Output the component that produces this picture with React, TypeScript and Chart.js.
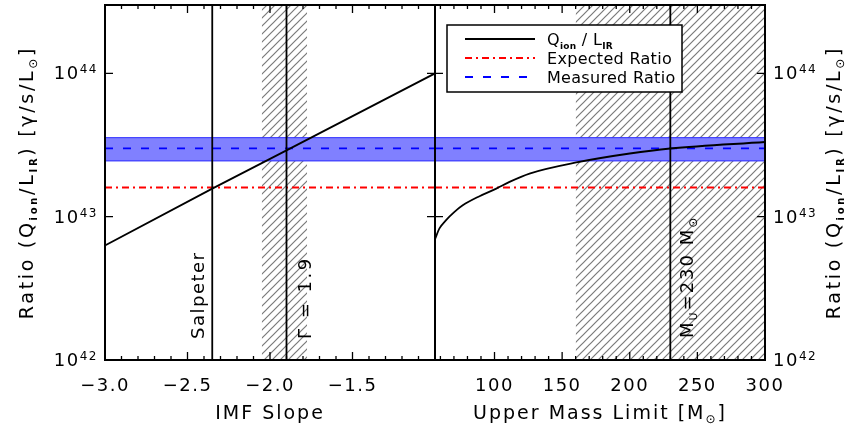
import React, { useEffect, useRef } from 'react';
import { Chart, registerables } from 'chart.js';

Chart.register(...registerables);

const FONT = "'DejaVu Sans', 'Liberation Sans', sans-serif";

// ---- shared y axis (log) ----
const Y_MIN = 1e42;
const Y_MAX = 3e44;
const Y_DECADES = [1e42, 1e43, 1e44];
const Y_EXPONENTS = ['42', '43', '44'];

// ---- horizontal reference ratios ----
const EXPECTED_RATIO = 1.6e43;
const MEASURED_RATIO = 3.0e43;
const MEASURED_LOW = 2.45e43;
const MEASURED_HIGH = 3.56e43;

// ---- left panel: IMF slope ----
const SLOPE_MIN = -3.0;
const SLOPE_MAX = -1.0;
const SLOPE_TICKS = [-3.0, -2.5, -2.0, -1.5, -1.0];
const SLOPE_LABELED = [-3.0, -2.5, -2.0, -1.5];
const SLOPE_VALUES = [-3.0, -2.35, -1.9, -1.0];
const SLOPE_RATIOS = [6.3e42, 1.57e43, 2.9e43, 1.0e44];
const SALPETER_SLOPE = -2.35;
const FIT_SLOPE = -1.9;
const FIT_SLOPE_RANGE = [-2.05, -1.775];

// ---- right panel: upper mass limit ----
const MASS_MIN = 56;
const MASS_MAX = 300;
const MASS_TICKS = [100, 150, 200, 250, 300];
const MASS_VALUES = [56, 59.3, 64.2, 70.4, 76.5, 88.9, 101.3, 111.1, 125.9, 160.5, 200, 230, 300];
const MASS_RATIOS = [6.97e42, 8.28e42, 9.46e42, 1.08e43, 1.2e43, 1.39e43, 1.57e43, 1.75e43, 2.0e43, 2.39e43, 2.76e43, 2.99e43, 3.32e43];
const FIT_MASS = 230;
const FIT_MASS_RANGE = [160, 300];

const RED_DASH = [7, 4, 2, 4];
const BLUE_DASH = [8, 10];

type Part = { t: string; s: number; dy?: number; b?: boolean };

function setFont(ctx: any, p: Part) {
  ctx.font = `${p.b ? 'bold ' : ''}${p.s}px ${FONT}`;
}
function drawRich(ctx: any, parts: Part[], x: number, y: number, align: string, ls: number) {
  ctx.letterSpacing = ls + 'px';
  let w = 0;
  for (const p of parts) {
    setFont(ctx, p);
    w += ctx.measureText(p.t).width;
  }
  let cx = align === 'left' ? x : align === 'center' ? x - w / 2 : x - w;
  ctx.textAlign = 'left';
  ctx.textBaseline = 'alphabetic';
  for (const p of parts) {
    setFont(ctx, p);
    ctx.fillText(p.t, cx, y + (p.dy || 0));
    cx += ctx.measureText(p.t).width;
  }
}
function drawRotated(ctx: any, parts: Part[], x: number, y: number, align: string, ls: number) {
  ctx.save();
  ctx.translate(x, y);
  ctx.rotate(-Math.PI / 2);
  drawRich(ctx, parts, 0, 0, align, ls);
  ctx.restore();
}

function hatchPattern(): any {
  const c = document.createElement('canvas');
  c.width = 8;
  c.height = 8;
  const g = c.getContext('2d');
  if (!g) return '#aaa';
  g.strokeStyle = '#7a7a7a';
  g.lineWidth = 1.2;
  g.beginPath();
  g.moveTo(-1, 9); g.lineTo(9, -1);
  g.moveTo(-1, 1); g.lineTo(1, -1);
  g.moveTo(7, 9); g.lineTo(9, 7);
  g.stroke();
  return g.createPattern(c, 'repeat') || '#aaa';
}

const hseg = (x0: number, x1: number, y: number) => [{ x: x0, y }, { x: x1, y }];
const vseg = (x: number) => [{ x, y: Y_MIN }, { x, y: Y_MAX }];

function buildDatasets(xmin: number, xmax: number, hatch: number[], fit: number, extraV: number[], curveX: number[], curveY: number[], pattern: any, smooth: boolean) {
  const base = { pointRadius: 0, pointHoverRadius: 0 };
  return [
    { ...base, data: hseg(xmin, xmax, MEASURED_HIGH), borderColor: '#2a2aff', borderWidth: 1, backgroundColor: '#8080ff', fill: '+1', order: 9 },
    { ...base, data: hseg(xmin, xmax, MEASURED_LOW), borderColor: '#2a2aff', borderWidth: 1, fill: false, order: 8 },
    { ...base, data: [{ x: hatch[0], y: Y_MAX }, { x: hatch[1], y: Y_MAX }], borderColor: 'rgba(0,0,0,0)', borderWidth: 1, backgroundColor: pattern, fill: 'start', order: 10 },
    { ...base, data: hseg(xmin, xmax, EXPECTED_RATIO), borderColor: '#ff0000', borderWidth: 2, borderDash: RED_DASH, fill: false, order: 7 },
    { ...base, data: hseg(xmin, xmax, MEASURED_RATIO), borderColor: '#0000ff', borderWidth: 1.8, borderDash: BLUE_DASH, fill: false, order: 6 },
    ...[fit, ...extraV].map((v) => ({ ...base, data: vseg(v), borderColor: '#000', borderWidth: 1.8, fill: false, order: 3 })),
    {
      ...base,
      data: curveX.map((x, i) => ({ x, y: curveY[i] })),
      borderColor: '#000',
      borderWidth: 1.8,
      fill: false,
      order: 2,
      cubicInterpolationMode: smooth ? 'monotone' : 'default',
    },
  ];
}

function decor(side: 'left' | 'right') {
  return {
    id: 'decor' + side,
    beforeDraw(chart: any) {
      chart.ctx.letterSpacing = '1.5px';
    },
    afterDraw(chart: any) {
      const ctx = chart.ctx;
      const a = chart.chartArea;
      const xs = chart.scales.x;
      const ys = chart.scales.y;
      ctx.save();
      ctx.strokeStyle = '#000';
      ctx.fillStyle = '#000';
      ctx.lineWidth = 1.3;
      ctx.beginPath();
      const tickX = (v: number, len: number) => {
        const px = xs.getPixelForValue(v);
        ctx.moveTo(px, a.bottom);
        ctx.lineTo(px, a.bottom - len);
        ctx.moveTo(px, a.top);
        ctx.lineTo(px, a.top + len);
      };
      if (side === 'left') {
        for (let i = 0; i <= 20; i++) tickX(SLOPE_MIN + i * 0.1, 4);
        SLOPE_TICKS.forEach((v) => tickX(v, 8));
      } else {
        for (let v = 60; v < MASS_MAX; v += 10) tickX(v, 4);
        MASS_TICKS.forEach((v) => tickX(v, 8));
      }
      Y_DECADES.forEach((v) => {
        const py = ys.getPixelForValue(v);
        ctx.moveTo(a.left, py);
        ctx.lineTo(a.left + 8, py);
        ctx.moveTo(a.right, py);
        ctx.lineTo(a.right - 8, py);
      });
      ctx.stroke();
      ctx.lineWidth = 2;
      ctx.strokeRect(a.left, a.top, a.right - a.left, a.bottom - a.top);

      // y tick labels
      Y_DECADES.forEach((v, i) => {
        const py = ys.getPixelForValue(v);
        const parts: Part[] = [{ t: '10', s: 18 }, { t: Y_EXPONENTS[i], s: 12, dy: -6 }];
        if (side === 'left') drawRich(ctx, parts, a.left - 7, py + 6, 'right', 1.5);
        else drawRich(ctx, parts, a.right + 8, py + 6, 'left', 1.5);
      });

      // y title
      const yTitle: Part[] = [
        { t: 'Ratio (Q', s: 19 },
        { t: 'ion', s: 10, b: true, dy: 4 },
        { t: '/L', s: 19 },
        { t: 'IR', s: 10, b: true, dy: 4 },
        { t: ') [γ/s/L', s: 19 },
        { t: '⊙', s: 12, dy: 4 },
        { t: ']', s: 19 },
      ];
      const midY = (a.top + a.bottom) / 2;
      if (side === 'left') drawRotated(ctx, yTitle, a.left - 72, midY, 'center', 2.7);
      else drawRotated(ctx, yTitle, a.right + 75, midY, 'center', 2.7);

      // x title + annotations
      const midX = (a.left + a.right) / 2;
      if (side === 'left') {
        drawRich(ctx, [{ t: 'IMF Slope', s: 19 }], midX, 419, 'center', 2);
        drawRotated(ctx, [{ t: 'Salpeter', s: 18 }], xs.getPixelForValue(SALPETER_SLOPE) - 8, a.bottom - 21, 'left', 1.5);
        drawRotated(ctx, [{ t: 'Γ = 1.9', s: 18 }], xs.getPixelForValue(FIT_SLOPE) + 24, a.bottom - 21, 'left', 2.5);
      } else {
        drawRich(ctx, [{ t: 'Upper Mass Limit [M', s: 19 }, { t: '⊙', s: 12, dy: 4 }, { t: ']', s: 19 }], midX, 419, 'center', 2);
        drawRotated(
          ctx,
          [{ t: 'M', s: 18 }, { t: 'U', s: 11, dy: 4 }, { t: '=230 M', s: 18 }, { t: '⊙', s: 12, dy: 4 }],
          xs.getPixelForValue(FIT_MASS) + 23,
          a.bottom - 22,
          'left',
          2
        );

        // legend
        const lx = a.left + 12;
        const ly = a.top + 20;
        const lw = 235;
        const lh = 67;
        ctx.fillStyle = '#fff';
        ctx.fillRect(lx, ly, lw, lh);
        ctx.lineWidth = 1.5;
        ctx.strokeStyle = '#000';
        ctx.strokeRect(lx, ly, lw, lh);
        const rows = [
          { color: '#000', dash: [] as number[], width: 1.8, parts: [{ t: 'Q', s: 16 }, { t: 'ion', s: 9, b: true, dy: 4 }, { t: ' / L', s: 16 }, { t: 'IR', s: 9, b: true, dy: 4 }] },
          { color: '#ff0000', dash: RED_DASH, width: 2, parts: [{ t: 'Expected Ratio', s: 16 }] },
          { color: '#0000ff', dash: BLUE_DASH, width: 1.8, parts: [{ t: 'Measured Ratio', s: 16 }] },
        ];
        rows.forEach((r, i) => {
          const ry = ly + 14 + i * 19;
          ctx.save();
          ctx.strokeStyle = r.color;
          ctx.lineWidth = r.width;
          ctx.setLineDash(r.dash);
          ctx.beginPath();
          ctx.moveTo(lx + 18, ry);
          ctx.lineTo(lx + 88, ry);
          ctx.stroke();
          ctx.restore();
          ctx.fillStyle = '#000';
          drawRich(ctx, r.parts as Part[], lx + 100, ry + 6, 'left', 0.3);
        });
      }
      ctx.restore();
    },
  };
}

function fmtSlope(v: number) {
  return (v < 0 ? '\u2212' : '') + Math.abs(v).toFixed(1);
}

function config(side: 'left' | 'right', pattern: any): any {
  const isLeft = side === 'left';
  const xmin = isLeft ? SLOPE_MIN : MASS_MIN;
  const xmax = isLeft ? SLOPE_MAX : MASS_MAX;
  const datasets = isLeft
    ? buildDatasets(xmin, xmax, FIT_SLOPE_RANGE, FIT_SLOPE, [SALPETER_SLOPE], SLOPE_VALUES, SLOPE_RATIOS, pattern, false)
    : buildDatasets(xmin, xmax, FIT_MASS_RANGE, FIT_MASS, [], MASS_VALUES, MASS_RATIOS, pattern, true);
  const tickValues = isLeft ? SLOPE_TICKS : MASS_TICKS;
  return {
    type: 'line',
    data: { datasets },
    options: {
      responsive: false,
      animation: false,
      events: [],
      layout: { padding: isLeft ? { left: 105, right: 5, top: 5, bottom: 0 } : { left: 5, right: 86, top: 5, bottom: 0 } },
      plugins: { legend: { display: false }, tooltip: { enabled: false } },
      scales: {
        x: {
          type: 'linear',
          min: xmin,
          max: xmax,
          grid: { display: false, drawTicks: false },
          border: { display: false },
          afterBuildTicks: (s: any) => {
            s.ticks = tickValues.map((v) => ({ value: v }));
          },
          afterFit: (s: any) => {
            s.height = 70;
            s.paddingLeft = 0;
            s.paddingRight = 0;
          },
          ticks: {
            autoSkip: false,
            maxRotation: 0,
            padding: 16,
            color: '#000',
            font: { family: FONT, size: 18 },
            callback: (v: number) => (isLeft ? (SLOPE_LABELED.includes(v) ? fmtSlope(v) : '') : String(v)),
          },
        },
        y: { type: 'logarithmic', min: Y_MIN, max: Y_MAX, display: false },
      },
    },
    plugins: [decor(side)],
  };
}

export default function App() {
  const leftRef = useRef<HTMLCanvasElement>(null);
  const rightRef = useRef<HTMLCanvasElement>(null);
  useEffect(() => {
    const pattern = hatchPattern();
    const c1 = new Chart(leftRef.current as HTMLCanvasElement, config('left', pattern));
    const c2 = new Chart(rightRef.current as HTMLCanvasElement, config('right', pattern));
    return () => {
      c1.destroy();
      c2.destroy();
    };
  }, []);
  return (
    <div style={{ position: 'fixed', left: 0, top: 0, width: 851, height: 430, background: '#fff', overflow: 'hidden' }}>
      <canvas ref={leftRef} width={440} height={430} style={{ position: 'absolute', left: 0, top: 0 }} />
      <canvas ref={rightRef} width={421} height={430} style={{ position: 'absolute', left: 430, top: 0 }} />
    </div>
  );
}
